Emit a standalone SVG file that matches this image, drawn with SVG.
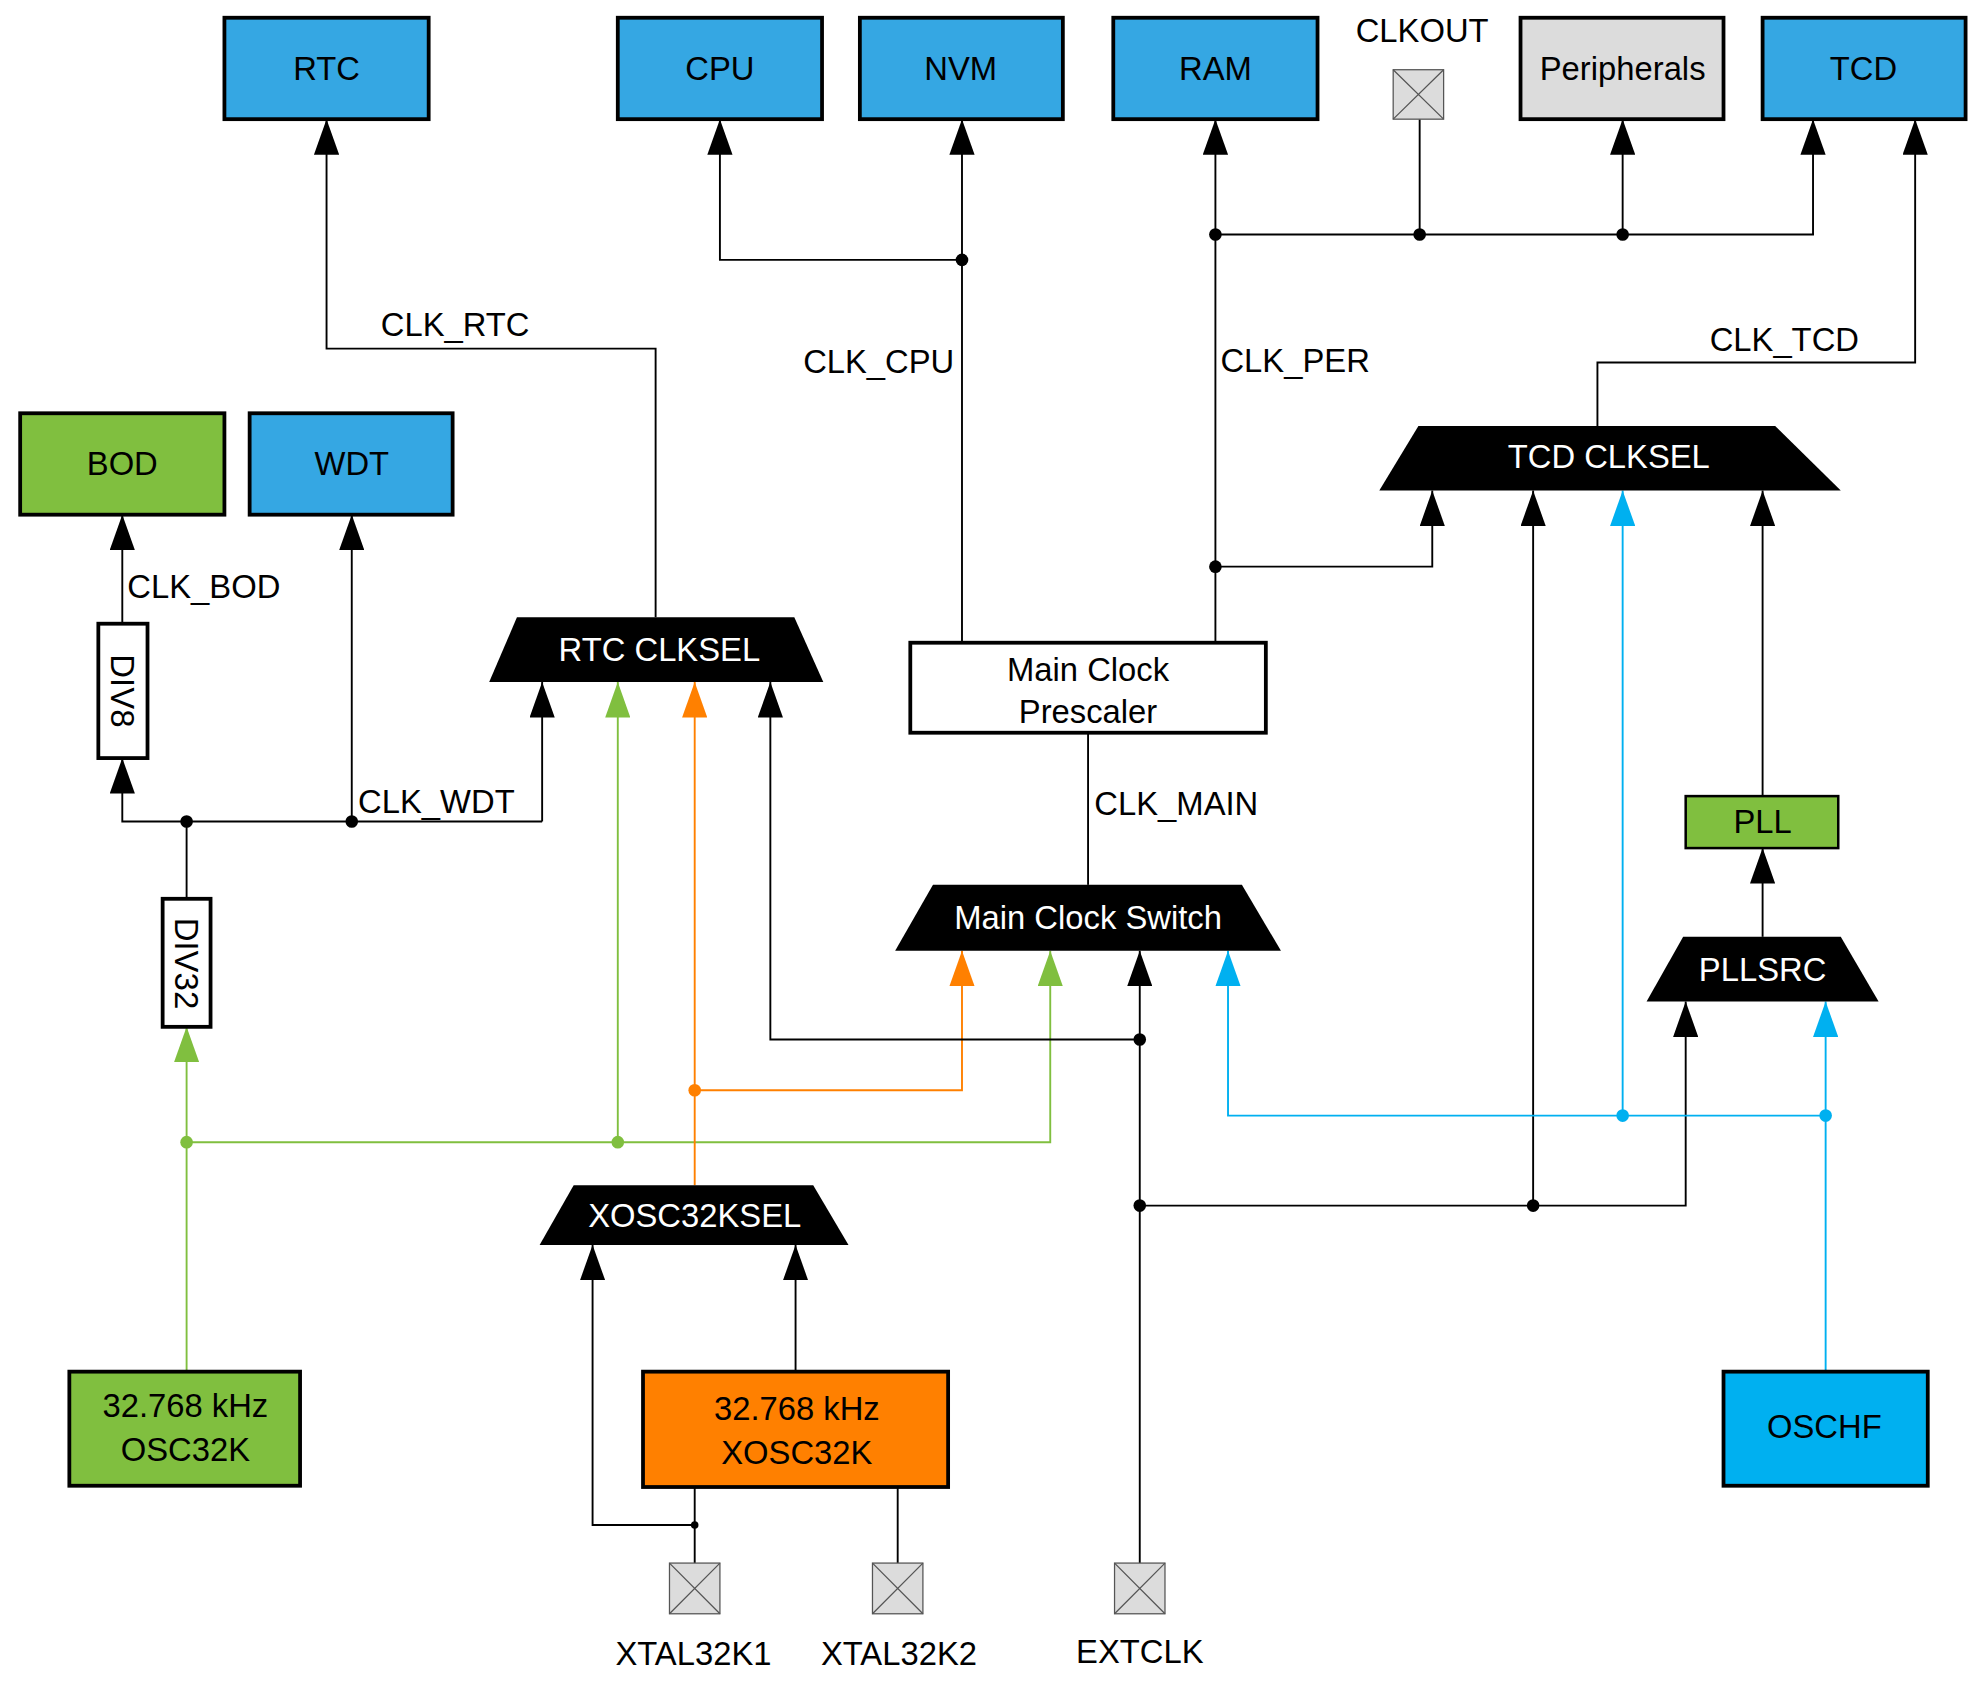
<svg xmlns="http://www.w3.org/2000/svg" width="1977" height="1686" viewBox="0 0 1977 1686">
<style>
text{font-family:"Liberation Sans",Arial,sans-serif;font-size:26px;fill:#000}
.c{text-anchor:middle;dominant-baseline:central}
.w{fill:#fff}
.box{stroke:#000;stroke-width:3}
.blue{fill:#35A7E3}.green{fill:#80BF3F}.gray{fill:#DCDCDC}.orange{fill:#FF8000}.cyan{fill:#00B0F0}
.trap{fill:#000}
.k{fill:none;stroke:#000;stroke-width:1.5}
.g{fill:none;stroke:#80BF3F;stroke-width:1.5}
.o{fill:none;stroke:#FF8000;stroke-width:1.5}
.b{fill:none;stroke:#00B0F0;stroke-width:1.5}
.pad{fill:#DCDCDC;stroke:#555;stroke-width:1}
</style>
<defs>
<marker id="ak" markerUnits="userSpaceOnUse" markerWidth="28" markerHeight="20" refX="28" refY="10" orient="auto"><path d="M0,0L28,10L0,20z" fill="#000"/></marker>
<marker id="ag" markerUnits="userSpaceOnUse" markerWidth="28" markerHeight="20" refX="28" refY="10" orient="auto"><path d="M0,0L28,10L0,20z" fill="#80BF3F"/></marker>
<marker id="ao" markerUnits="userSpaceOnUse" markerWidth="28" markerHeight="20" refX="28" refY="10" orient="auto"><path d="M0,0L28,10L0,20z" fill="#FF8000"/></marker>
<marker id="ab" markerUnits="userSpaceOnUse" markerWidth="28" markerHeight="20" refX="28" refY="10" orient="auto"><path d="M0,0L28,10L0,20z" fill="#00B0F0"/></marker>
</defs>
<rect width="1977" height="1686" fill="#fff"/>
<g transform="scale(1.2608,1.2677)">
<g id="connectors">
<path class="k" d="M520,487V275H259V94" marker-end="url(#ak)"/>
<path class="k" d="M763,507V94" marker-end="url(#ak)"/>
<path class="k" d="M763,205H571V94" marker-end="url(#ak)"/>
<path class="k" d="M964,507V94" marker-end="url(#ak)"/>
<path class="k" d="M964,447H1136V387" marker-end="url(#ak)"/>
<path class="k" d="M964,185H1438V94" marker-end="url(#ak)"/>
<path class="k" d="M1126,185V94"/>
<path class="k" d="M1287,185V94" marker-end="url(#ak)"/>
<path class="k" d="M1267,336V286H1519V94" marker-end="url(#ak)"/>
<path class="k" d="M97,492V406" marker-end="url(#ak)"/>
<path class="k" d="M430,648H97V598" marker-end="url(#ak)"/>
<path class="k" d="M430,648V538" marker-end="url(#ak)"/>
<path class="k" d="M279,648V406" marker-end="url(#ak)"/>
<path class="k" d="M148,709V648"/>
<path class="g" d="M148,1082V810" marker-end="url(#ag)"/>
<path class="g" d="M148,901H490V538" marker-end="url(#ag)"/>
<path class="g" d="M490,901H833V750" marker-end="url(#ag)"/>
<path class="o" d="M551,935V538" marker-end="url(#ao)"/>
<path class="o" d="M551,860H763V750" marker-end="url(#ao)"/>
<path class="k" d="M904,1233V750" marker-end="url(#ak)"/>
<path class="k" d="M904,820H611V538" marker-end="url(#ak)"/>
<path class="k" d="M904,951H1337V790" marker-end="url(#ak)"/>
<path class="k" d="M1216,951V387" marker-end="url(#ak)"/>
<path class="k" d="M1398,739V669" marker-end="url(#ak)"/>
<path class="k" d="M1398,628V387" marker-end="url(#ak)"/>
<path class="b" d="M1448,1082V790" marker-end="url(#ab)"/>
<path class="b" d="M1448,880H974V750" marker-end="url(#ab)"/>
<path class="b" d="M1287,880V387" marker-end="url(#ab)"/>
<path class="k" d="M863,698V578"/>
<path class="k" d="M551,1233V1173"/>
<path class="k" d="M551,1203H470V982" marker-end="url(#ak)"/>
<path class="k" d="M631,1082V982" marker-end="url(#ak)"/>
<path class="k" d="M712,1233V1173"/>
<g fill="#000">
<circle cx="763" cy="205" r="5"/><circle cx="964" cy="185" r="5"/><circle cx="1126" cy="185" r="5"/><circle cx="1287" cy="185" r="5"/>
<circle cx="964" cy="447" r="5"/><circle cx="148" cy="648" r="5"/><circle cx="279" cy="648" r="5"/>
<circle cx="904" cy="820" r="5"/><circle cx="904" cy="951" r="5"/><circle cx="1216" cy="951" r="5"/><circle cx="551" cy="1203" r="3"/>
</g>
<circle cx="148" cy="901" r="5" fill="#80BF3F"/><circle cx="490" cy="901" r="5" fill="#80BF3F"/>
<circle cx="551" cy="860" r="5" fill="#FF8000"/>
<circle cx="1287" cy="880" r="5" fill="#00B0F0"/><circle cx="1448" cy="880" r="5" fill="#00B0F0"/>
<text x="302" y="256" dominant-baseline="central">CLK_RTC</text>
<text x="637" y="285" dominant-baseline="central">CLK_CPU</text>
<text x="968" y="284" dominant-baseline="central">CLK_PER</text>
<text x="1356" y="268" dominant-baseline="central">CLK_TCD</text>
<text x="101" y="463" dominant-baseline="central">CLK_BOD</text>
<text x="284" y="632" dominant-baseline="central">CLK_WDT</text>
<text x="868" y="634" dominant-baseline="central">CLK_MAIN</text>
</g>
<g id="rtc"><rect class="box blue" x="178" y="14" width="162" height="80"/><text class="c" x="259" y="54">RTC</text></g>
<g id="cpu"><rect class="box blue" x="490" y="14" width="162" height="80"/><text class="c" x="571" y="54">CPU</text></g>
<g id="nvm"><rect class="box blue" x="682" y="14" width="161" height="80"/><text class="c" x="762" y="54">NVM</text></g>
<g id="ram"><rect class="box blue" x="883" y="14" width="162" height="80"/><text class="c" x="964" y="54">RAM</text></g>
<g id="clkout"><rect class="pad" x="1105" y="55" width="40" height="39"/><path d="M1105,55L1145,94M1145,55L1105,94" stroke="#555" stroke-width="1"/><text class="c" x="1128" y="24">CLKOUT</text></g>
<g id="peripherals"><rect class="box gray" x="1206" y="14" width="161" height="80"/><text class="c" x="1287" y="54">Peripherals</text></g>
<g id="tcd"><rect class="box blue" x="1398" y="14" width="161" height="80"/><text class="c" x="1478" y="54">TCD</text></g>
<g id="bod"><rect class="box green" x="16" y="326" width="162" height="80"/><text class="c" x="97" y="366">BOD</text></g>
<g id="wdt"><rect class="box blue" x="198" y="326" width="161" height="80"/><text class="c" x="279" y="366">WDT</text></g>
<g id="div8"><rect class="box" fill="#fff" x="78" y="492" width="39" height="106"/><text class="c" transform="translate(97,545) rotate(90)">DIV8</text></g>
<g id="div32"><rect class="box" fill="#fff" x="129" y="709" width="38" height="101"/><text class="c" transform="translate(148,760) rotate(90)">DIV32</text></g>
<g id="rtcclksel"><path class="trap" d="M410,487H630L653,538H388Z"/><text class="c w" x="523" y="512">RTC CLKSEL</text></g>
<g id="prescaler"><rect class="box" fill="#fff" x="722" y="507" width="282" height="71"/><text class="c" x="863" y="528">Main Clock</text><text class="c" x="863" y="561">Prescaler</text></g>
<g id="mainswitch"><path class="trap" d="M740,698H985L1016,750H710Z"/><text class="c w" x="863" y="724">Main Clock Switch</text></g>
<g id="tcdclksel"><path class="trap" d="M1125,336H1408L1460,387H1094Z"/><text class="c w" x="1276" y="360">TCD CLKSEL</text></g>
<g id="pll"><rect class="green" stroke="#000" stroke-width="2" x="1337" y="628" width="121" height="41"/><text class="c" x="1398" y="648">PLL</text></g>
<g id="pllsrc"><path class="trap" d="M1335,739H1460L1490,790H1306Z"/><text class="c w" x="1398" y="765">PLLSRC</text></g>
<g id="xosc32ksel"><path class="trap" d="M455,935H645L673,982H428Z"/><text class="c w" x="551" y="959">XOSC32KSEL</text></g>
<g id="osc32k"><rect class="box green" x="55" y="1082" width="183" height="90"/><text class="c" x="147" y="1109">32.768 kHz</text><text class="c" x="147" y="1143">OSC32K</text></g>
<g id="xosc32k"><rect class="box orange" x="510" y="1082" width="242" height="91"/><text class="c" x="632" y="1111">32.768 kHz</text><text class="c" x="632" y="1146">XOSC32K</text></g>
<g id="oschf"><rect class="box cyan" x="1367" y="1082" width="162" height="90"/><text class="c" x="1447" y="1125">OSCHF</text></g>
<g id="xtal32k1"><rect class="pad" x="531" y="1233" width="40" height="40"/><path d="M531,1233L571,1273M571,1233L531,1273" stroke="#555"/><text class="c" x="550" y="1304">XTAL32K1</text></g>
<g id="xtal32k2"><rect class="pad" x="692" y="1233" width="40" height="40"/><path d="M692,1233L732,1273M732,1233L692,1273" stroke="#555"/><text class="c" x="713" y="1304">XTAL32K2</text></g>
<g id="extclk"><rect class="pad" x="884" y="1233" width="40" height="40"/><path d="M884,1233L924,1273M924,1233L884,1273" stroke="#555"/><text class="c" x="904" y="1303">EXTCLK</text></g>
</g>
</svg>
